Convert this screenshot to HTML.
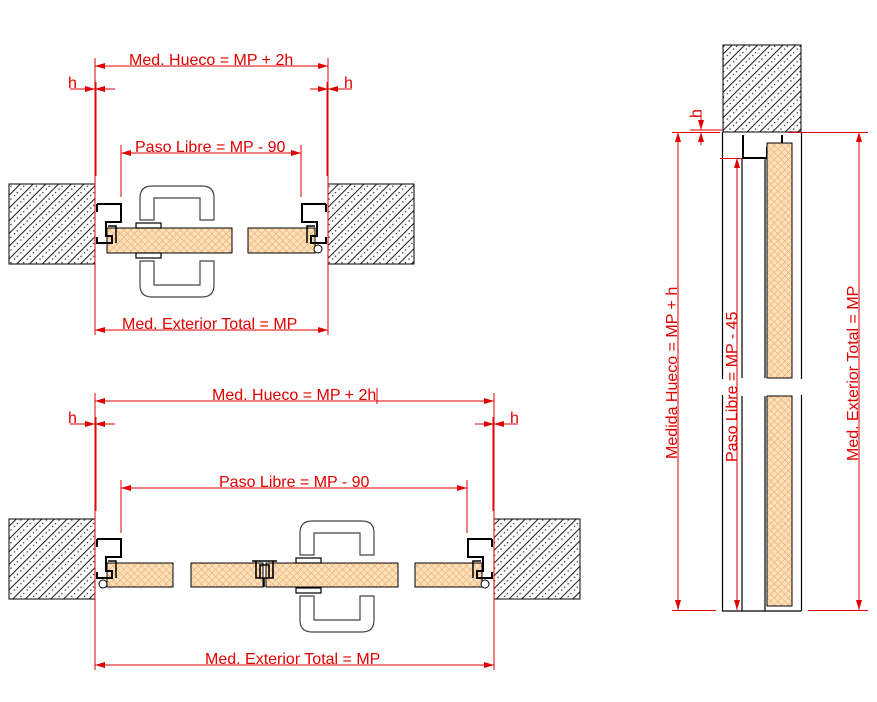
<!DOCTYPE html>
<html><head><meta charset="utf-8"><style>
html,body{margin:0;padding:0;background:#fff}
svg{display:block}
text{font-family:"Liberation Sans",sans-serif;fill:#e00000;font-size:16px}
</style></head><body>
<svg width="877" height="702" viewBox="0 0 877 702" xmlns="http://www.w3.org/2000/svg">
<defs>
<pattern id="hatch" width="9" height="9" patternUnits="userSpaceOnUse" patternTransform="rotate(45)">
<rect width="9" height="9" fill="#fff"/>
<line x1="0.5" y1="0" x2="0.5" y2="9" stroke="#222" stroke-width="1.1"/>
<circle cx="4.5" cy="2" r="0.7" fill="#222"/><circle cx="4.5" cy="7" r="0.7" fill="#222"/>
</pattern>
<pattern id="wood" width="5" height="5" patternUnits="userSpaceOnUse" patternTransform="rotate(45)">
<rect width="5" height="5" fill="#fbe0bd"/>
<line x1="0" y1="0" x2="5" y2="0" stroke="#eea055" stroke-width="1"/>
<line x1="0" y1="0" x2="0" y2="5" stroke="#eea055" stroke-width="1"/>
</pattern>
<marker id="ar" viewBox="0 0 10 6" refX="10" refY="3" markerWidth="10" markerHeight="6" orient="auto-start-reverse" markerUnits="userSpaceOnUse">
<path d="M0,0 L10,3 L0,6z" fill="#e00000"/></marker>
<g id="frameL" fill="none" stroke="#000" stroke-width="2">
<path d="M97,204 L97,212 M97,204 L121,204 L121,222 L106,222 L106,236 L112,236 L112,243 L97,243 L97,237"/>
<path d="M108,226 L116,226 L116,243" stroke-width="1.5"/>
</g>
<g id="handle" fill="none" stroke="#444" stroke-width="1.2">
<path d="M140,220 L140,198 Q140,186 152,186 L202,186 Q214,186 214,198 L214,220 L200,220 L200,198 L154,198 L154,220 Z"/>
<path d="M140,261 L140,285 Q140,297 152,297 L202,297 Q214,297 214,285 L214,261 L200,261 L200,285 L154,285 L154,261 Z"/>
<rect x="136" y="223" width="25" height="5" stroke="#000"/>
<rect x="136" y="253" width="25" height="5" stroke="#000"/>
</g>
</defs>

<!-- ===== VIEW 1 ===== -->
<rect x="9" y="184" width="86" height="80" fill="url(#hatch)" stroke="#000"/>
<rect x="328" y="184" width="86" height="80" fill="url(#hatch)" stroke="#000"/>
<g stroke="#e00000" fill="none" stroke-width="1">
<line x1="95" y1="58" x2="95" y2="335"/><line x1="328" y1="58" x2="328" y2="335"/>
<line x1="95.5" y1="82" x2="95.5" y2="176" stroke-width="2"/><line x1="327.5" y1="82" x2="327.5" y2="176" stroke-width="2"/>
<line x1="95" y1="66" x2="328" y2="66" marker-start="url(#ar)" marker-end="url(#ar)"/>
<line x1="70" y1="89" x2="95" y2="89" marker-end="url(#ar)"/><line x1="115" y1="89" x2="95" y2="89" marker-end="url(#ar)"/>
<line x1="310" y1="89" x2="328" y2="89" marker-end="url(#ar)"/><line x1="352" y1="89" x2="328" y2="89" marker-end="url(#ar)"/>
<line x1="121" y1="145" x2="121" y2="197"/><line x1="301" y1="145" x2="301" y2="197"/>
<line x1="121" y1="153" x2="301" y2="153" marker-start="url(#ar)" marker-end="url(#ar)"/>
<line x1="95" y1="330" x2="328" y2="330" marker-start="url(#ar)" marker-end="url(#ar)"/>
</g>
<text x="129" y="65">Med. Hueco = MP + 2h</text>
<text x="68" y="88">h</text><text x="344" y="88">h</text>
<text x="135" y="152">Paso Libre = MP - 90</text>
<text x="122" y="329">Med. Exterior Total = MP</text>
<rect x="107" y="228" width="125" height="25" fill="url(#wood)" stroke="#000"/>
<rect x="248" y="228" width="67" height="25" fill="url(#wood)" stroke="#000"/>
<use href="#frameL"/>
<use href="#frameL" transform="translate(423,0) scale(-1,1)"/>
<circle cx="318" cy="249" r="4" fill="#fff" stroke="#000"/>
<use href="#handle"/>

<!-- ===== VIEW 2 ===== -->
<rect x="9" y="519" width="86" height="80" fill="url(#hatch)" stroke="#000"/>
<rect x="494" y="519" width="86" height="80" fill="url(#hatch)" stroke="#000"/>
<g stroke="#e00000" fill="none" stroke-width="1">
<line x1="95" y1="393" x2="95" y2="670"/><line x1="494" y1="393" x2="494" y2="670"/>
<line x1="95.5" y1="417" x2="95.5" y2="511" stroke-width="2"/><line x1="493.5" y1="417" x2="493.5" y2="511" stroke-width="2"/>
<line x1="95" y1="401" x2="494" y2="401" marker-start="url(#ar)" marker-end="url(#ar)"/>
<line x1="377" y1="388" x2="377" y2="404"/>
<line x1="70" y1="424" x2="95" y2="424" marker-end="url(#ar)"/><line x1="115" y1="424" x2="95" y2="424" marker-end="url(#ar)"/>
<line x1="475" y1="424" x2="494" y2="424" marker-end="url(#ar)"/><line x1="518" y1="424" x2="494" y2="424" marker-end="url(#ar)"/>
<line x1="121" y1="480" x2="121" y2="533"/><line x1="467" y1="480" x2="467" y2="533"/>
<line x1="121" y1="488" x2="467" y2="488" marker-start="url(#ar)" marker-end="url(#ar)"/>
<line x1="95" y1="665" x2="494" y2="665" marker-start="url(#ar)" marker-end="url(#ar)"/>
</g>
<text x="212" y="400">Med. Hueco = MP + 2h</text>
<text x="68" y="423">h</text><text x="510" y="423">h</text>
<text x="219" y="487">Paso Libre = MP - 90</text>
<text x="205" y="664">Med. Exterior Total = MP</text>
<rect x="107" y="563" width="66" height="24" fill="url(#wood)" stroke="#000"/>
<rect x="191" y="563" width="72" height="24" fill="url(#wood)" stroke="#000"/>
<rect x="266" y="563" width="132" height="24" fill="url(#wood)" stroke="#000"/>
<rect x="415" y="563" width="67" height="24" fill="url(#wood)" stroke="#000"/>
<use href="#frameL" transform="translate(0,335)"/>
<use href="#frameL" transform="translate(589,335) scale(-1,1)"/>
<circle cx="103" cy="584" r="4" fill="#fff" stroke="#000"/>
<circle cx="485" cy="584" r="4" fill="#fff" stroke="#000"/>
<path d="M252,561 L277,561 M256,561 L256,578 L273,578 L273,561 M260,578 L260,565 L269,565 L269,578 M264,578 L264,587" fill="none" stroke="#000" stroke-width="1.6"/>
<use href="#handle" transform="translate(160,335)"/>

<!-- ===== VIEW 3 (vertical) ===== -->
<rect x="723" y="45" width="78" height="87" fill="url(#hatch)" stroke="#000"/>
<g fill="none" stroke="#000" stroke-width="1.2">
<line x1="722.5" y1="132" x2="722.5" y2="611"/><line x1="801.5" y1="132" x2="801.5" y2="611"/>
<line x1="742" y1="158" x2="742" y2="378"/><line x1="742" y1="396" x2="742" y2="611"/>
<line x1="765" y1="158" x2="765" y2="378"/><line x1="765" y1="396" x2="765" y2="611"/>
<line x1="722" y1="611" x2="801" y2="611"/>
<path d="M743,135 L743,158 L767,158 L767,148 L775,148 M782,135 L782,145" stroke-width="2"/>
</g>
<rect x="767" y="143" width="25" height="235" fill="url(#wood)" stroke="#000"/>
<rect x="767" y="396" width="25" height="210" fill="url(#wood)" stroke="#000"/>
<rect x="721" y="379" width="82" height="16" fill="#fff"/>
<g stroke="#e00000" fill="none" stroke-width="1">
<line x1="672" y1="132.5" x2="720" y2="132.5"/><line x1="788" y1="132.5" x2="868" y2="132.5"/>
<line x1="672" y1="610.5" x2="716" y2="610.5"/><line x1="808" y1="610.5" x2="868" y2="610.5"/>
<line x1="690" y1="130" x2="722" y2="130"/>
<line x1="678" y1="132" x2="678" y2="610" marker-start="url(#ar)" marker-end="url(#ar)"/>
<line x1="737" y1="158" x2="737" y2="610" marker-start="url(#ar)" marker-end="url(#ar)"/>
<line x1="859" y1="132" x2="859" y2="610" marker-start="url(#ar)" marker-end="url(#ar)"/>
<line x1="720" y1="158.5" x2="742" y2="158.5"/>
<line x1="701" y1="110" x2="701" y2="130" marker-end="url(#ar)"/>
<line x1="701" y1="145" x2="701" y2="132" marker-end="url(#ar)"/>
</g>
<text transform="translate(677,459) rotate(-90)">Medida Hueco = MP + h</text>
<text transform="translate(737,462) rotate(-90)">Paso Libre = MP - 45</text>
<text transform="translate(858,461) rotate(-90)">Med. Exterior Total = MP</text>
<text transform="translate(701,118) rotate(-90)">h</text>
</svg>
</body></html>
